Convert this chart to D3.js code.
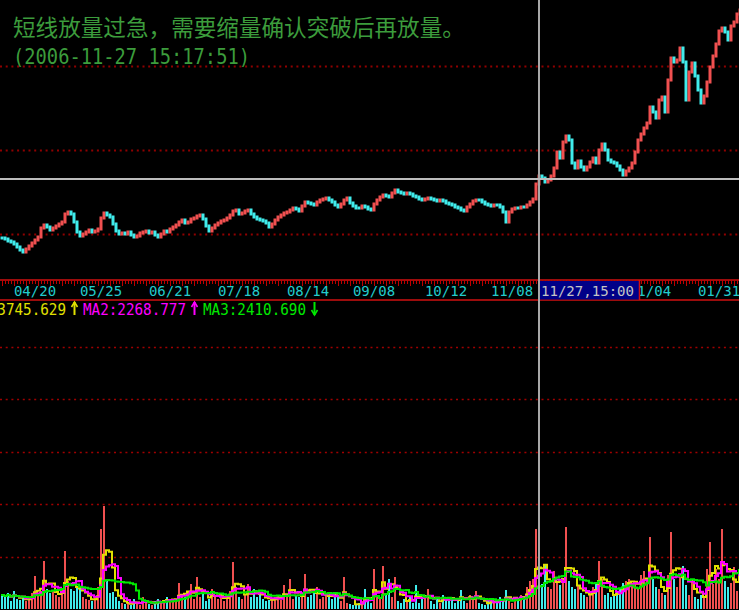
<!DOCTYPE html>
<html><head><meta charset="utf-8">
<script src="https://cdn.jsdelivr.net/npm/d3@7"></script>
<style>html,body{margin:0;padding:0;background:#000;overflow:hidden}</style>
</head><body>
<svg id="c" width="739" height="610"></svg>
<script>
// ---- data ----
const closes = [
1342,1341,1339,1338,1336,1333,1330,1328,1331,1334,1337,1340,1343,1352,1355,1353,1350,1352,1354,1356,
1358,1366,1368,1366,1358,1348,1344,1346,1348,1350,1348,1349,1351,1362,1367,1365,1363,1356,1349,1346,
1347,1346,1348,1345,1343,1344,1347,1348,1349,1347,1348,1345,1343,1346,1349,1348,1351,1353,1355,1358,
1360,1357,1358,1361,1362,1364,1365,1361,1354,1349,1352,1355,1357,1359,1360,1362,1365,1369,1370,1366,
1367,1369,1370,1366,1363,1361,1360,1359,1357,1353,1356,1360,1363,1365,1367,1368,1370,1372,1371,1369,
1374,1378,1377,1376,1375,1378,1380,1381,1382,1380,1378,1375,1373,1376,1380,1382,1377,1374,1372,1372,
1374,1373,1371,1370,1376,1380,1383,1385,1384,1383,1387,1390,1388,1387,1386,1387,1386,1384,1383,1381,
1380,1381,1382,1381,1380,1379,1380,1379,1377,1376,1375,1373,1372,1370,1369,1373,1376,1379,1380,1380,
1378,1376,1375,1374,1375,1375,1373,1368,1358,1368,1371,1372,1372,1373,1373,1375,1378,1381,1396,1404,
1402,1398,1400,1404,1412,1428,1422,1438,1444,1440,1417,1412,1419,1413,1410,1413,1418,1422,1417,1430,
1436,1430,1420,1418,1417,1414,1410,1405,1409,1412,1417,1428,1440,1446,1452,1457,1473,1468,1462,1480,
1483,1468,1500,1522,1518,1520,1532,1518,1480,1508,1517,1504,1490,1477,1484,1498,1513,1524,1536,1549,
1552,1548,1540,1554,1558,1566,1570
];
const volumes = [
14,12,16,8,18,10,9,12,8,10, 16,33,14,18,48,20,16,18,14,12,
20,58,28,20,18,22,22,12,10,9, 8,12,22,80,103,30,16,17,12,8,
6,5,6,4,10,6,4,12,6,5, 4,8,10,6,8,12,10,8,9,26,
14,12,18,25,10,32,12,16,8,10, 20,14,10,12,8,14,18,47,22,12,
10,14,25,12,20,12,16,10,8,9, 10,12,14,9,24,12,30,10,14,12,
16,35,12,14,16,22,10,12,14,16, 10,15,12,8,32,6,5,4,4,6,
8,20,10,6,40,14,10,43,14,30, 12,32,8,6,10,8,12,6,24,6,
10,12,20,8,5,12,6,14,10,8, 12,6,10,19,8,6,14,12,18,6,
5,4,8,10,8,6,12,8,19,8, 6,12,10,14,12,22,28,30,80,28,
25,44,22,20,38,28,24,30,82,28, 22,20,24,16,14,12,16,22,26,48,
30,14,16,12,14,18,20,26,28,30, 26,25,20,34,38,30,72,30,22,20,
16,14,34,77,30,22,32,43,24,14, 30,12,10,14,12,40,67,25,40,30,
80,28,22,26,42,18,62
];
const dateTicks = ["04/20","05/25","06/21","07/18","08/14","09/08","10/12","11/08","01/04","01/31"];
const dateTickIndex = [11,33,56,79,102,124,148,170,216,239];
const priceGrid = [1346,1430,1514];
const volGrid = [52.5,105,157.5,210,262.5];
const maNames = ["MA1","MA2","MA3"];
const maValues = [3745.629, 2268.777, 2410.690];
const maTrend = ["up","up","down"];
const maWindows = [4,6,12];
const maColors = ["#e0e000","#ff00ff","#00e800"];
const titleText = "短线放量过急，需要缩量确认突破后再放量。";
const stampText = "(2006-11-27 15:17:51)";
const crossIndex = 179;
const crossPrice = 1401;
const crossLabel = "11/27,15:00";

// ---- drawing ----
const W = 739, H = 610;
const RED = "#f05050", CYAN = "#40ecec";
const svg = d3.select("#c");
svg.append("rect").attr("width", W).attr("height", H).attr("fill", "#000");

const N = closes.length;
const x = d3.scaleLinear().domain([0, N - 1]).range([2, 740]);
const step = x(1) - x(0);
const y = d3.scaleLinear().domain([1300, 1580]).range([280, 0]);
const yv = d3.scaleLinear().domain([0, 315]).range([609, 294]);

svg.append("defs").append("clipPath").attr("id", "pc")
  .append("rect").attr("x", 0).attr("y", 0).attr("width", W).attr("height", 279);

// grids
svg.append("g").selectAll("line").data(priceGrid).join("line")
  .attr("x1", 0).attr("x2", W)
  .attr("y1", d => Math.round(y(d)) + 0.5).attr("y2", d => Math.round(y(d)) + 0.5)
  .attr("stroke", "#900000").attr("stroke-width", 2).attr("stroke-dasharray", "2,3.7");
svg.append("g").selectAll("line").data(volGrid).join("line")
  .attr("x1", 0).attr("x2", W)
  .attr("y1", d => Math.round(yv(d)) + 0.5).attr("y2", d => Math.round(yv(d)) + 0.5)
  .attr("stroke", "#a00000").attr("stroke-width", 1.5).attr("stroke-dasharray", "2,3.7");

// candles
const candles = closes.map((c, i) => ({ i, o: i ? closes[i - 1] : c, c }));
svg.append("g").attr("clip-path", "url(#pc)")
  .selectAll("rect").data(candles).join("rect")
  .attr("x", d => x(d.i) - step / 2)
  .attr("width", step)
  .attr("y", d => Math.min(y(d.o), y(d.c)) - 1.5)
  .attr("height", d => Math.max(3, Math.abs(y(d.o) - y(d.c)) + 3))
  .attr("fill", d => d.c > d.o ? RED : CYAN);

// volume bars
svg.append("g").selectAll("rect").data(volumes).join("rect")
  .attr("x", (d, i) => x(i) - 1)
  .attr("width", 2)
  .attr("y", d => yv(d))
  .attr("height", d => yv(0) - yv(d))
  .attr("fill", (d, i) => candles[i].c > candles[i].o ? RED : CYAN);

// volume moving averages
maWindows.forEach((w, k) => {
  const ma = volumes.map((v, i) => d3.mean(volumes.slice(Math.max(0, i - w + 1), i + 1)));
  svg.append("path").datum(ma)
    .attr("d", d3.line().x((d, i) => x(i) - 1).y(d => yv(d)).curve(d3.curveStepAfter))
    .attr("fill", "none").attr("stroke", maColors[k]).attr("stroke-width", 2);
});

// date axis band
const axg = svg.append("g");
axg.append("line").attr("x1", 0).attr("x2", W).attr("y1", 280).attr("y2", 280)
  .attr("stroke", "#d01010").attr("stroke-width", 1.5);
axg.append("line").attr("x1", 0).attr("x2", W).attr("y1", 300).attr("y2", 300)
  .attr("stroke", "#d01010").attr("stroke-width", 1.5);
axg.selectAll("line.t").data(d3.range(N)).join("line").attr("class", "t")
  .attr("x1", i => Math.round(x(i)) + 0.5).attr("x2", i => Math.round(x(i)) + 0.5)
  .attr("y1", 280).attr("y2", i => i % 4 === 0 ? 286 : 284)
  .attr("stroke", "#c00000").attr("stroke-width", 1);
axg.selectAll("text").data(dateTicks).join("text")
  .attr("x", (d, k) => x(dateTickIndex[k]))
  .attr("y", 295.5)
  .attr("text-anchor", "middle")
  .attr("font-family", "DejaVu Sans Mono")
  .attr("font-size", "14px")
  .attr("fill", "#22cccc")
  .text(d => d);

// MA legend
const lg = svg.append("g");
maNames.forEach((n, k) => {
  const x0 = -37 + 120 * k;
  lg.append("text").attr("x", x0).attr("y", 314.5)
    .attr("font-family", "DejaVu Sans Mono").attr("font-size", "15.5px")
    .attr("textLength", 103).attr("lengthAdjust", "spacingAndGlyphs")
    .attr("fill", maColors[k])
    .text(n + ":" + maValues[k].toFixed(3));
  const ax = x0 + 111.5;
  const up = maTrend[k] === "up";
  const yTop = 302, yBot = 315;
  lg.append("line").attr("x1", ax).attr("x2", ax).attr("y1", yTop).attr("y2", yBot)
    .attr("stroke", maColors[k]).attr("stroke-width", 2);
  const tip = up ? yTop : yBot, back = up ? yTop + 5 : yBot - 5;
  lg.append("path").attr("d", `M${ax - 3},${back} L${ax},${tip} L${ax + 3},${back}`)
    .attr("fill", "none").attr("stroke", maColors[k]).attr("stroke-width", 1.6);
});

// crosshair
svg.append("line").attr("x1", x(crossIndex)).attr("x2", x(crossIndex)).attr("y1", 0).attr("y2", H)
  .attr("stroke", "#a8a8a8").attr("stroke-width", 2);
svg.append("line").attr("x1", 0).attr("x2", W).attr("y1", y(crossPrice)).attr("y2", y(crossPrice))
  .attr("stroke", "#bcbcbc").attr("stroke-width", 2);

// crosshair date box
const bx = x(crossIndex) + 1;
svg.append("rect").attr("x", bx).attr("y", 281).attr("width", 99).attr("height", 18.5)
  .attr("fill", "#000088");
svg.append("line").attr("x1", bx + 99.5).attr("x2", bx + 99.5).attr("y1", 280).attr("y2", 300)
  .attr("stroke", "#d01010").attr("stroke-width", 1.5);
svg.append("text").attr("x", bx + 1).attr("y", 295.5)
  .attr("font-family", "DejaVu Sans Mono").attr("font-size", "14px")
  .attr("textLength", 93).attr("lengthAdjust", "spacingAndGlyphs")
  .attr("fill", "#c4c4c4").text(crossLabel);

// titles
svg.append("text").attr("x", 13).attr("y", 35.5)
  .attr("font-family", "Noto Sans CJK SC").attr("font-size", "22.6px")
  .attr("fill", "#3c9c3c").text(titleText);
svg.append("text").attr("x", 13).attr("y", 63.5)
  .attr("font-family", "DejaVu Sans Mono").attr("font-size", "22px")
  .attr("textLength", 237).attr("lengthAdjust", "spacingAndGlyphs")
  .attr("fill", "#3c9c3c").text(stampText);
</script>
</body></html>
